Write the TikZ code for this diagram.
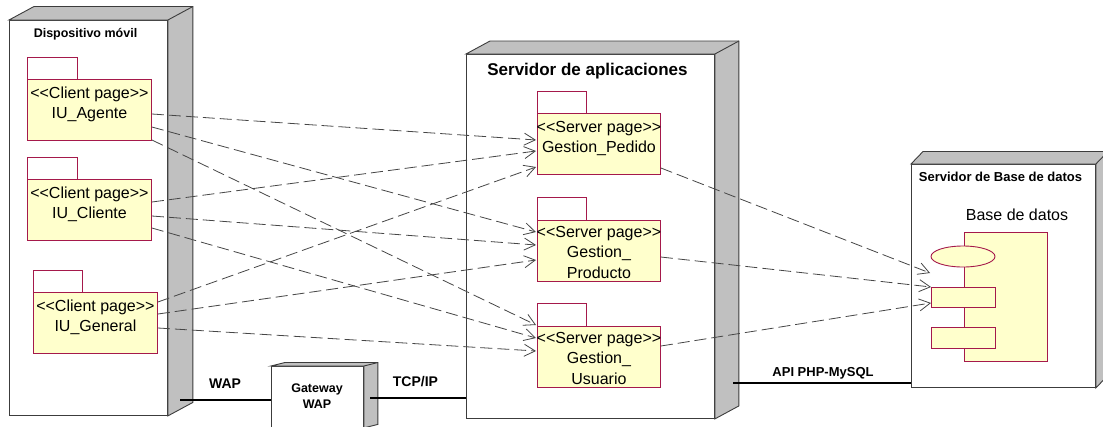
\documentclass[tikz,border=0pt]{standalone}
\usepackage{fontspec}
\setmainfont{Liberation Sans}
\usetikzlibrary{calc,arrows.meta,shapes.geometric}
\definecolor{sidegray}{RGB}{192,192,192}
\definecolor{pkgfill}{RGB}{255,255,204}
\definecolor{pkgred}{RGB}{165,25,75}
\definecolor{depgray}{RGB}{70,70,70}
\definecolor{edgegray}{RGB}{60,60,60}
\newcommand{\boxsides}[3]{%
  \draw[sideface] (#1.north west) -- ++(#2,-#3) -- ($(#1.north east)+(#2,-#3)$)
    -- ($(#1.south east)+(#2,-#3)$) -- (#1.south east) -- (#1.north east) -- cycle;
  \draw[sideface] (#1.north east) -- ++(#2,-#3);}
\newcommand{\stereo}[1]{<\kern0pt<#1>\kern0pt>}
\tikzset{
  nodeface/.style={draw=edgegray, fill=white, line width=0.9pt, anchor=north west, inner sep=0},
  sideface/.style={draw=edgegray, fill=sidegray, line width=0.9pt, line join=miter},
  pkgbody/.style={draw=pkgred, fill=pkgfill, line width=0.9pt, anchor=north west, inner sep=0},
  pkgtab/.style={draw=pkgred, fill=white, line width=0.9pt},
  pkgtext/.style={anchor=base, inner sep=0, font=\fontsize{16}{19}\selectfont},
  title/.style={anchor=base, inner sep=0, font=\bfseries\fontsize{#1}{#1}\selectfont},
  dep/.style={draw=depgray, line width=0.8pt, dash pattern=on 12pt off 5pt,
    -{Straight Barb[length=11pt,width=12pt,line width=0.8pt]}},
  link/.style={draw=black, line width=1.4pt},
}
\begin{document}
\begin{tikzpicture}[x=1pt,y=-1pt]
\useasboundingbox (0,0) rectangle (1103,426);
\clip (0,0) rectangle (1103,426);

% ---------- Dispositivo movil ----------
\node[nodeface, minimum width=158pt, minimum height=395pt] (dev) at (9,20) {};
\boxsides{dev}{25}{13.5}
\node[title=12.5] (devt) at (85.5,37) {Dispositivo móvil};

% client pages
\node[pkgbody, minimum width=124pt, minimum height=61pt] (ag) at (27,79) {};
\draw[pkgtab] (ag.north west) rectangle ++(50,-22);
\node[pkgtext] (ag1) at ($(ag.north)+(0,19.7)$) {\stereo{Client page}};
\node[pkgtext] (ag2) at ($(ag.north)+(0,39.7)$) {IU\_Agente};

\node[pkgbody, minimum width=124pt, minimum height=61pt] (cl) at (27,179) {};
\draw[pkgtab] (cl.north west) rectangle ++(50,-22);
\node[pkgtext] (cl1) at ($(cl.north)+(0,19.7)$) {\stereo{Client page}};
\node[pkgtext] (cl2) at ($(cl.north)+(0,39.7)$) {IU\_Cliente};

\node[pkgbody, minimum width=124pt, minimum height=61pt] (ge) at (33,292) {};
\draw[pkgtab] (ge.north west) rectangle ++(49,-22);
\node[pkgtext] (ge1) at ($(ge.north)+(0,19.7)$) {\stereo{Client page}};
\node[pkgtext] (ge2) at ($(ge.north)+(0,39.7)$) {IU\_General};

% ---------- Gateway WAP ----------
\node[nodeface, minimum width=92pt, minimum height=61pt] (gw) at (271,366) {};
\boxsides{gw}{14}{3.5}
\node[title=12.5] (gw1) at (317,392) {Gateway};
\node[title=12.5] (gw2) at (317,408) {WAP};

% ---------- Servidor de aplicaciones ----------
\node[nodeface, minimum width=248pt, minimum height=364pt] (app) at (466,54) {};
\boxsides{app}{24}{13}
\node[title=17] (appt) at (587.5,75.4) {Servidor de aplicaciones};

\node[pkgbody, minimum width=123pt, minimum height=61pt] (pe) at (537,113) {};
\draw[pkgtab] (pe.north west) rectangle ++(49,-22);
\node[pkgtext] (pe1) at ($(pe.north)+(0,19.7)$) {\stereo{Server page}};
\node[pkgtext] (pe2) at ($(pe.north)+(0,39.7)$) {Gestion\_Pedido};

\node[pkgbody, minimum width=123pt, minimum height=61pt] (pr) at (537,220) {};
\draw[pkgtab] (pr.north west) rectangle ++(49,-23);
\node[pkgtext] (pr1) at ($(pr.north)+(0,17.5)$) {\stereo{Server page}};
\node[pkgtext] (pr2) at ($(pr.north)+(0,37.7)$) {Gestion\_};
\node[pkgtext] (pr3) at ($(pr.north)+(0,58.5)$) {Producto};

\node[pkgbody, minimum width=123pt, minimum height=61pt] (us) at (537,326) {};
\draw[pkgtab] (us.north west) rectangle ++(49,-23);
\node[pkgtext] (us1) at ($(us.north)+(0,17.5)$) {\stereo{Server page}};
\node[pkgtext] (us2) at ($(us.north)+(0,37.7)$) {Gestion\_};
\node[pkgtext] (us3) at ($(us.north)+(0,58.5)$) {Usuario};

% ---------- Servidor de Base de datos ----------
\node[nodeface, minimum width=184pt, minimum height=223pt] (db) at (911,164) {};
\boxsides{db}{12}{12.5}
\node[title=13] (dbt) at (1000.5,181.3) {Servidor de Base de datos};
\node[anchor=base, inner sep=0, font=\fontsize{16}{19}\selectfont] (dbl) at (1017,220) {Base de datos};

\node[pkgbody, minimum width=83pt, minimum height=129pt] (comp) at (964,232) {};
\node[draw=pkgred, fill=pkgfill, line width=0.9pt, ellipse, minimum width=64pt, minimum height=21pt, inner sep=0] (ell) at (963,256.5) {};
\node[pkgbody, minimum width=64pt, minimum height=20pt] (r1) at (931,287) {};
\node[pkgbody, minimum width=64pt, minimum height=21pt] (r2) at (931,327) {};

% ---------- communication links ----------
\coordinate (wapS) at (180,400);
\coordinate (tcpS) at (370,398);
\coordinate (apiS) at (733,383);
\draw[link] (wapS) -- (wapS -| gw.west);
\draw[link] (tcpS) -- (tcpS -| app.west);
\draw[link] (apiS) -- (apiS -| db.west);
\node[title=14] (wapl) at (225,388.3) {WAP};
\node[title=14] (tcpl) at (415.5,386.7) {TCP/IP};
\node[title=13] (apil) at (823,376.6) {API PHP-MySQL};

% ---------- dependencies ----------
\draw[dep] ($(ag.north east)+(0,35)$) -- ($(pe.north west)+(-1,27)$);
\draw[dep] ($(ag.north east)+(0,48)$) -- ($(pr.north west)+(-1,12)$);
\draw[dep] ($(ag.north east)+(0,61)$) -- ($(us.north west)+(-1,-1)$);
\draw[dep] ($(cl.north east)+(0,23)$) -- ($(pe.north west)+(-1,38)$);
\draw[dep] ($(cl.north east)+(0,37)$) -- ($(pr.north west)+(-1,25)$);
\draw[dep] ($(cl.north east)+(0,49)$) -- ($(us.north west)+(-1,12)$);
\draw[dep] ($(ge.north east)+(0,10)$) -- ($(pe.north west)+(-1,54)$);
\draw[dep] ($(ge.north east)+(0,22)$) -- ($(pr.north west)+(-1,40)$);
\draw[dep] ($(ge.north east)+(0,36)$) -- ($(us.north west)+(-1,25)$);

\draw[dep] ($(pe.north east)+(0,55)$) -- ($(r1.north west)+(-1,-14)$);
\draw[dep] ($(pr.north east)+(0,37)$) -- ($(r1.north west)+(0,0)$);
\draw[dep] ($(us.north east)+(0,20)$) -- ($(r1.north west)+(0,16)$);
\end{tikzpicture}
\end{document}
